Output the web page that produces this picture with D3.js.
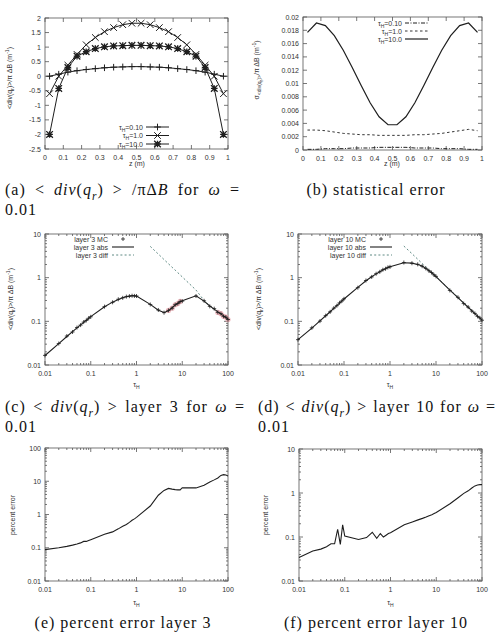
<!DOCTYPE html>
<html>
<head>
<meta charset="utf-8">
<script src="https://cdn.jsdelivr.net/npm/d3@7"></script>
<style>
  body { margin: 0; background: #fff; }
  text { font-family: "Liberation Sans", Arial, sans-serif; fill: #333; }
  text.cap { font-family: "Liberation Serif", "DejaVu Serif", serif; fill: #111; letter-spacing: 1px; }
</style>
</head>
<body>
<svg id="fig" width="498" height="632"></svg>
<script>
// ---- (a), (b): profiles along z ----
const zPts = [0.025, 0.075, 0.125, 0.175, 0.225, 0.275, 0.325, 0.375, 0.425, 0.475,
              0.525, 0.575, 0.625, 0.675, 0.725, 0.775, 0.825, 0.875, 0.925, 0.975];
const divTau01 = [0.0, 0.07, 0.14, 0.19, 0.23, 0.26, 0.29, 0.31, 0.32, 0.33,
                  0.33, 0.32, 0.31, 0.29, 0.26, 0.23, 0.19, 0.14, 0.07, 0.0];
const divTau1 = [-0.6, 0.0, 0.38, 0.75, 1.08, 1.33, 1.53, 1.67, 1.77, 1.82,
                 1.82, 1.77, 1.67, 1.53, 1.33, 1.08, 0.75, 0.38, 0.0, -0.6];
const divTau10 = [-2.0, -0.42, 0.3, 0.69, 0.84, 0.95, 1.01, 1.04, 1.05, 1.06,
                  1.06, 1.05, 1.04, 1.01, 0.95, 0.84, 0.69, 0.3, -0.42, -2.0];
const errTau01 = [0.0001, 0.0001, 0.0002, 0.0002, 0.0002, 0.0003, 0.0003, 0.0003, 0.0004, 0.0004,
                  0.0004, 0.0004, 0.0003, 0.0003, 0.0003, 0.0002, 0.0002, 0.0002, 0.0001, 0.0001];
const errTau1 = [0.0030, 0.0030, 0.0029, 0.0027, 0.0025, 0.0024, 0.0023, 0.0023, 0.0022, 0.0022,
                 0.0022, 0.0022, 0.0023, 0.0023, 0.0024, 0.0025, 0.0027, 0.0029, 0.0031, 0.0029];
const errTau10 = [0.0177, 0.0191, 0.0187, 0.0172, 0.0150, 0.0124, 0.0097, 0.0071, 0.0050, 0.0038,
                  0.0038, 0.0050, 0.0071, 0.0097, 0.0124, 0.0150, 0.0172, 0.0187, 0.0191, 0.0177];

// ---- (c)-(f): against optical thickness tau_H ----
const tauPts = [0.01, 0.02, 0.03, 0.04, 0.05, 0.06, 0.07, 0.08, 0.09,
                0.1, 0.2, 0.3, 0.4, 0.5, 0.6, 0.7, 0.8, 0.9,
                1, 2, 3, 4, 5, 6, 7, 8, 9,
                10, 20, 30, 40, 50, 60, 70, 80, 90, 100];
const abs3 = [0.0165, 0.031, 0.045, 0.058, 0.071, 0.083, 0.095, 0.106, 0.117,
              0.128, 0.215, 0.275, 0.318, 0.347, 0.366, 0.378, 0.384, 0.384,
              0.378, 0.245, 0.18, 0.16, 0.175, 0.205, 0.235, 0.26, 0.28,
              0.295, 0.385, 0.29, 0.225, 0.19, 0.165, 0.148, 0.133, 0.122, 0.113];
const mc3 = [0.0166, 0.031, 0.046, 0.057, 0.072, 0.082, 0.096, 0.105, 0.118,
             0.127, 0.217, 0.273, 0.32, 0.345, 0.368, 0.377, 0.386, 0.382,
             0.38, 0.243, 0.182, 0.158, 0.178, 0.2, 0.24, 0.255, 0.285,
             0.29, 0.38, 0.295, 0.22, 0.195, 0.16, 0.15, 0.13, 0.125, 0.11];
const abs10 = [0.038, 0.07, 0.102, 0.134, 0.166, 0.198, 0.23, 0.262, 0.295,
               0.325, 0.6, 0.85, 1.05, 1.22, 1.37, 1.5, 1.61, 1.7,
               1.78, 2.2, 2.15, 2.0, 1.85, 1.62, 1.45, 1.3, 1.17,
               1.06, 0.52, 0.35, 0.26, 0.21, 0.175, 0.15, 0.132, 0.118, 0.107];
const mc10 = [0.038, 0.071, 0.101, 0.135, 0.165, 0.2, 0.228, 0.265, 0.292,
              0.328, 0.59, 0.86, 1.04, 1.23, 1.36, 1.52, 1.6, 1.72,
              1.77, 2.22, 2.14, 2.02, 1.83, 1.63, 1.44, 1.31, 1.16,
              1.07, 0.51, 0.355, 0.255, 0.212, 0.172, 0.152, 0.13, 0.12, 0.106];
const redMc3 = [5, 6, 7, 8, 9, 60, 70, 80, 90, 100];
const diffTau = [2, 3, 4, 5, 6, 7, 8, 9, 10, 20, 30, 40, 50, 60, 70, 80, 90, 100];
const diff3 = [5.2, 3.47, 2.6, 2.08, 1.73, 1.49, 1.3, 1.16, 1.04, 0.52, 0.3,
               0.225, 0.19, 0.165, 0.148, 0.133, 0.122, 0.113];
const diff10 = [5.3, 3.55, 2.65, 2.12, 1.77, 1.52, 1.33, 1.18, 1.06, 0.53, 0.355,
                0.262, 0.211, 0.176, 0.151, 0.132, 0.118, 0.107];
const pctErr3 = [0.088, 0.1, 0.11, 0.12, 0.13, 0.14, 0.155, 0.155, 0.165,
                 0.175, 0.255, 0.3, 0.37, 0.44, 0.5, 0.58, 0.67, 0.74,
                 0.82, 1.8, 3.8, 5.3, 6.1, 5.8, 5.6, 5.5, 5.5,
                 6.4, 6.3, 7.6, 9.5, 11, 12.5, 15, 15.8, 15.5, 14.5];
const pctErr10 = [0.034, 0.048, 0.053, 0.06, 0.07, 0.07, 0.15, 0.068, 0.19,
                  0.105, 0.088, 0.097, 0.128, 0.093, 0.12, 0.1, 0.11, 0.12,
                  0.125, 0.19, 0.22, 0.245, 0.265, 0.285, 0.305, 0.32, 0.34,
                  0.36, 0.57, 0.78, 0.98, 1.12, 1.3, 1.45, 1.52, 1.55, 1.55];

// ---- tick values and labels ----
const zTicks = [0, 0.1, 0.2, 0.3, 0.4, 0.5, 0.6, 0.7, 0.8, 0.9, 1];
const zLabels = ["0", "0.1", "0.2", "0.3", "0.4", "0.5", "0.6", "0.7", "0.8", "0.9", "1"];
const divTicks = [-2.5, -2, -1.5, -1, -0.5, 0, 0.5, 1, 1.5, 2];
const divLabels = ["-2.5", "-2", "-1.5", "-1", "-0.5", "0", "0.5", "1", "1.5", "2"];
const errTicks = [0, 0.002, 0.004, 0.006, 0.008, 0.01, 0.012, 0.014, 0.016, 0.018, 0.02];
const errLabels = ["0", "0.002", "0.004", "0.006", "0.008", "0.01", "0.012", "0.014", "0.016", "0.018", "0.02"];
const decTicks = [0.01, 0.1, 1, 10, 100];
const decLabels = ["0.01", "0.1", "1", "10", "100"];

const svg = d3.select("#fig");
const INK = "#1e1e1e", FRAME = "#555";

function minorOf(lo, hi) {
  const out = [];
  for (let d = lo; d < hi * 0.999; d *= 10)
    for (let m = 2; m <= 9; m++) out.push(d * m);
  return out;
}

// gnuplot-like box with inward mirrored ticks
function frame(g, x, y, xt, xl, yt, yl, xm, ym) {
  const [L, R] = x.range(), [B, T] = y.range();
  const tick = (x1, y1, x2, y2) => g.append("line")
    .attr("x1", x1).attr("y1", y1).attr("x2", x2).attr("y2", y2)
    .attr("stroke", FRAME).attr("stroke-width", 0.8);
  xt.forEach((v, i) => {
    const p = x(v);
    tick(p, B, p, B - 4); tick(p, T, p, T + 4);
    g.append("text").attr("x", p).attr("y", B + 10.5).attr("text-anchor", "middle")
      .style("font-size", "7px").text(xl[i]);
  });
  xm.forEach(v => { const p = x(v); tick(p, B, p, B - 2); tick(p, T, p, T + 2); });
  yt.forEach((v, i) => {
    const p = y(v);
    tick(L, p, L + 4, p); tick(R, p, R - 4, p);
    g.append("text").attr("x", L - 4).attr("y", p + 2.5).attr("text-anchor", "end")
      .style("font-size", "7px").text(yl[i]);
  });
  ym.forEach(v => { const p = y(v); tick(L, p, L + 2, p); tick(R, p, R - 2, p); });
  g.append("rect").attr("x", L).attr("y", T).attr("width", R - L).attr("height", B - T)
    .attr("fill", "none").attr("stroke", FRAME).attr("stroke-width", 0.8);
}

// text with sub/superscripts: parts = [text, kind, italic]
function rich(t, parts, fs) {
  let shift = 0;
  parts.forEach(([s, k, it]) => {
    const target = k === "sub" ? fs * 0.3 : k === "sub2" ? fs * 0.55 : k === "sup" ? -fs * 0.4 : 0;
    const ts = t.append("tspan").style("font-size", (k ? fs * 0.72 : fs) + "px").text(s);
    if (target - shift !== 0) ts.attr("dy", target - shift);
    if (it) ts.style("font-style", "italic");
    shift = target;
  });
  return t;
}

function ylabel(x, y, parts) {
  const t = svg.append("text").attr("transform", `translate(${x},${y}) rotate(-90)`)
    .attr("text-anchor", "middle");
  rich(t, parts, 7);
}
function xlabel(x, y, parts) {
  const t = svg.append("text").attr("x", x).attr("y", y).attr("text-anchor", "middle");
  rich(t, parts, 7);
}

function caption(x, y, parts, width, anchor) {
  const t = svg.append("text").attr("class", "cap").attr("x", x).attr("y", y);
  if (anchor) t.attr("text-anchor", anchor);
  rich(t, parts, 16);
  if (width) {
    const nat = t.node().getComputedTextLength();
    const spaces = parts.map(p => p[0]).join("").split(" ").length - 1;
    t.style("word-spacing", ((width - nat) / spaces) + "px");
  }
}

function curve(g, x, y, xs, ys, dash, w, col) {
  g.append("path").datum(d3.zip(xs, ys))
    .attr("d", d3.line().x(d => x(d[0])).y(d => y(d[1])))
    .attr("fill", "none").attr("stroke", col || INK).attr("stroke-width", w || 1)
    .attr("stroke-dasharray", dash || null);
}

function mark(g, type, cx, cy, s, w) {
  let p = "";
  if (type === "plus" || type === "star") p += `M${cx - s},${cy}H${cx + s}M${cx},${cy - s}V${cy + s}`;
  if (type === "cross" || type === "star") p += `M${cx - s},${cy - s}L${cx + s},${cy + s}M${cx - s},${cy + s}L${cx + s},${cy - s}`;
  g.append("path").attr("d", p).attr("fill", "none").attr("stroke", INK).attr("stroke-width", w || 1);
}

const divLab = [["<div(q"], ["r", "sub"], [")>/π ΔB (m"], ["-1", "sup"], [")"]];
const tauLab = [["τ"], ["H", "sub"]];

// ---------- (a) ----------
{
  const g = svg.append("g");
  const x = d3.scaleLinear().domain([0, 1]).range([45, 228]);
  const y = d3.scaleLinear().domain([-2.5, 2]).range([149, 18]);
  frame(g, x, y, zTicks, zLabels, divTicks, divLabels, [], []);
  const sets = [[divTau01, "plus"], [divTau1, "cross"], [divTau10, "star"]];
  sets.forEach(([vals, m]) => {
    curve(g, x, y, zPts, vals);
    zPts.forEach((z, i) => mark(g, m, x(z), y(vals[i]), 3.3, m === "star" ? 1.3 : 1));
  });
  ["0.10", "1.0", "10.0"].forEach((lab, i) => {
    const yy = 127 + i * 8.5;
    const t = g.append("text").attr("x", 143).attr("y", yy + 2.5).attr("text-anchor", "end");
    rich(t, [["τ"], ["H", "sub"], ["=" + lab]], 7);
    g.append("line").attr("x1", 146).attr("x2", 169).attr("y1", yy).attr("y2", yy).attr("stroke", INK);
    mark(g, sets[i][1], 157.5, yy, 3.3, sets[i][1] === "star" ? 1.3 : 1);
  });
  ylabel(12, 78, divLab);
  xlabel(137, 166, [["z (m)"]]);
}

// ---------- (b) ----------
{
  const g = svg.append("g");
  const x = d3.scaleLinear().domain([0, 1]).range([303, 482]);
  const y = d3.scaleLinear().domain([0, 0.02]).range([150, 17]);
  frame(g, x, y, zTicks, zLabels, errTicks, errLabels, [], []);
  const sets = [[errTau01, "4,1.5,1,1.5", 1], [errTau1, "2.5,2.5", 0.9], [errTau10, null, 1.2]];
  sets.forEach(([vals, d, w]) => curve(g, x, y, zPts, vals, d, w));
  ["0.10", "1.0", "10.0"].forEach((lab, i) => {
    const yy = 23 + i * 8;
    const t = g.append("text").attr("x", 402).attr("y", yy + 2.5).attr("text-anchor", "end");
    rich(t, [["τ"], ["H", "sub"], ["=" + lab]], 7);
    g.append("line").attr("x1", 405).attr("x2", 428).attr("y1", yy).attr("y2", yy)
      .attr("stroke", INK).attr("stroke-width", sets[i][2]).attr("stroke-dasharray", sets[i][1]);
  });
  ylabel(259, 70, [["σ"], ["<div(q", "sub"], ["r", "sub2"], [")>", "sub"], ["/π ΔB (m"], ["-1", "sup"], [")"]]);
  xlabel(392, 166, [["z (m)"]]);
}

// ---------- (c), (d) ----------
function divPanel(L, R, abs, mc, diff, layer, legEnd, ylx) {
  const g = svg.append("g");
  const x = d3.scaleLog().domain([0.01, 100]).range([L, R]);
  const y = d3.scaleLog().domain([0.01, 10]).range([365, 234]);
  frame(g, x, y, decTicks, decLabels, decTicks.slice(0, 4), decLabels.slice(0, 4),
        minorOf(0.01, 100), minorOf(0.01, 10));
  if (layer === 3) {
    tauPts.forEach((t, i) => {
      if (redMc3.includes(t))
        g.append("circle").attr("cx", x(t)).attr("cy", y(mc[i])).attr("r", 2.6)
          .attr("fill", "#e8a0a8").attr("opacity", 0.7);
    });
  }
  curve(g, x, y, diffTau, diff, "2,2.2", 0.9, "#4d7d76");
  curve(g, x, y, tauPts, abs, null, 1.1);
  tauPts.forEach((t, i) => mark(g, "plus", x(t), y(mc[i]), 2, 0.8));
  const names = ["MC", "abs", "diff"];
  names.forEach((n, i) => {
    const yy = 239 + i * 8;
    g.append("text").attr("x", legEnd).attr("y", yy + 2.5).attr("text-anchor", "end")
      .style("font-size", "7px").text(`layer ${layer} ${n}`);
    if (i === 0) mark(g, "plus", legEnd + 15, yy, 2, 0.8);
    else g.append("line").attr("x1", legEnd + 4).attr("x2", legEnd + 26).attr("y1", yy).attr("y2", yy)
      .attr("stroke", i === 1 ? INK : "#4d7d76").attr("stroke-width", i === 1 ? 1.1 : 0.9)
      .attr("stroke-dasharray", i === 2 ? "2,2.2" : null);
  });
  ylabel(ylx, 299, divLab);
  xlabel((L + R) / 2, 387, tauLab);
}
divPanel(45, 228, abs3, mc3, diff3, 3, 108, 13);
divPanel(298, 482, abs10, mc10, diff10, 10, 366, 261);

// ---------- (e), (f) ----------
function errPanel(L, R, T, top, vals, ylx) {
  const g = svg.append("g");
  const x = d3.scaleLog().domain([0.01, 100]).range([L, R]);
  const y = d3.scaleLog().domain([0.01, top]).range([581, T]);
  const n = top === 100 ? 5 : 4;
  frame(g, x, y, decTicks, decLabels, decTicks.slice(0, n), decLabels.slice(0, n),
        minorOf(0.01, 100), minorOf(0.01, top));
  curve(g, x, y, tauPts, vals, null, 1.1);
  ylabel(ylx, 515, [["percent error"]]);
  xlabel((L + R) / 2, 605, tauLab);
}
errPanel(45, 228, 448, 100, pctErr3, 15);
errPanel(299, 482, 449, 10, pctErr10, 268);

// ---------- captions ----------
const capDiv = (tag, tail) => [[`(${tag}) < `], ["div", "", true], ["("], ["q", "", true], ["r", "sub", true],
  [") > " + tail + " "], ["ω", "", true], [" ="]];
caption(5, 195, [["(a) < "], ["div", "", true], ["("], ["q", "", true], ["r", "sub", true],
  [") > /πΔ"], ["B", "", true], [" for "], ["ω", "", true], [" ="]], 235);
caption(5, 215, [["0.01"]]);
caption(376, 195, [["(b) statistical error"]], null, "middle");
caption(5, 412, capDiv("c", "layer 3 for"), 240);
caption(5, 432, [["0.01"]]);
caption(258, 412, capDiv("d", "layer 10 for"), 238);
caption(258, 432, [["0.01"]]);
caption(123, 628, [["(e) percent error layer 3"]], null, "middle");
caption(376, 628, [["(f) percent error layer 10"]], null, "middle");
</script>
</body>
</html>
